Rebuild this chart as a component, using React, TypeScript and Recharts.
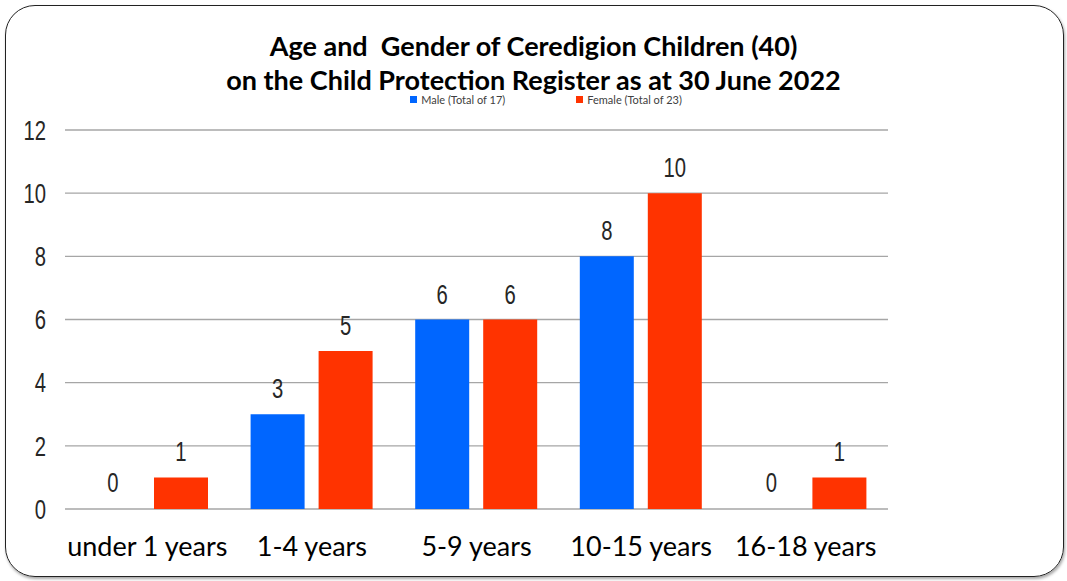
import React from 'react';
import { BarChart, Bar, XAxis, YAxis, CartesianGrid, LabelList, Legend, Cell } from 'recharts';

const ageGroups = ['under 1 years', '1-4 years', '5-9 years', '10-15 years', '16-18 years'];
const maleCounts = [0, 3, 6, 8, 0];
const femaleCounts = [1, 5, 6, 10, 1];
const yTicks = [0, 2, 4, 6, 8, 10, 12];
const seriesOrder = ['male', 'female'];

const MALE_COLOR = '#0066FF';
const FEMALE_COLOR = '#FF3300';

const data = ageGroups.map((age, i) => ({ age, male: maleCounts[i], female: femaleCounts[i] }));

const numFont = '"Liberation Sans", Arial, sans-serif';
const textFont = 'Lato, "Open Sans", sans-serif';
const NUM_SIZE = 27;
const NUM_SQUEEZE = 0.75; // the original numbers are a narrow face

// y axis numbers, squeezed horizontally
const YTick = (props: any) => {
    const { x, y, payload } = props;
    return (
        <text
            transform={`translate(${x},${y}) scale(${NUM_SQUEEZE},1)`}
            textAnchor="end"
            dy="0.36em"
            fontFamily={numFont}
            fontSize={NUM_SIZE}
            fill="#262626"
        >
            {payload.value}
        </text>
    );
};

// value labels sitting above each bar
const ValueLabel = (props: any) => {
    const { x, y, width, height, value } = props;
    const top = Math.min(y, y + height);
    return (
        <text
            transform={`translate(${x + width / 2},${top - 16}) scale(${NUM_SQUEEZE},1)`}
            textAnchor="middle"
            fontFamily={numFont}
            fontSize={NUM_SIZE}
            fill="#262626"
        >
            {value}
        </text>
    );
};

// small legend like the original, two items spaced apart
const renderLegend = (props: any) => {
    const items = [...props.payload].sort(
        (a: any, b: any) => seriesOrder.indexOf(a.dataKey) - seriesOrder.indexOf(b.dataKey)
    );
    return (
        <div style={{ display: 'flex', justifyContent: 'center', paddingLeft: 25, fontFamily: textFont, fontSize: 11, color: '#404040', lineHeight: '13px' }}>
            {items.map((entry: any, index: number) => (
                <span key={`item-${index}`} style={{ display: 'inline-flex', alignItems: 'center', marginRight: index === 0 ? 71 : 0 }}>
                    <span style={{ width: 7, height: 7, background: entry.color, display: 'inline-block', marginRight: 4 }} />
                    {entry.value}
                </span>
            ))}
        </div>
    );
};

const App: React.FC = () => {
    return (
        <div style={{ position: 'absolute', top: 0, left: 0, width: 1067, height: 581, background: '#fff' }}>
            <div
                style={{
                    position: 'absolute',
                    left: 5,
                    top: 5,
                    width: 1057,
                    height: 570,
                    border: '1.5px solid #222',
                    borderRadius: 30,
                    boxShadow: '1px 2px 3px rgba(0,0,0,0.35)',
                }}
            />
            <div
                style={{
                    position: 'absolute',
                    top: 29,
                    left: 0,
                    width: 1067,
                    textAlign: 'center',
                    fontFamily: textFont,
                    fontWeight: 700,
                    fontSize: 27,
                    lineHeight: '34px',
                    color: '#000',
                }}
            >
                Age and&nbsp; Gender of Ceredigion Children (40)
                <br />
                on the Child Protection Register as at 30 June 2022
            </div>
            <div style={{ position: 'absolute', top: 0, left: 0 }}>
                <BarChart
                    width={1067}
                    height={581}
                    data={data}
                    margin={{ top: 117, right: 179, bottom: 0, left: 0 }}
                    barCategoryGap={21}
                    barGap={14}
                >
                    <CartesianGrid vertical={false} stroke="#a6a6a6" strokeWidth={1.3} />
                    <XAxis
                        dataKey="age"
                        axisLine={false}
                        tickLine={false}
                        tickSize={0}
                        tickMargin={28}
                        height={72}
                        interval={0}
                        tick={{ fontFamily: textFont, fontSize: 27, fill: '#000' }}
                    />
                    <YAxis
                        domain={[0, 12]}
                        ticks={yTicks}
                        width={65}
                        axisLine={false}
                        tickLine={false}
                        tickSize={0}
                        tickMargin={19}
                        tick={<YTick />}
                    />
                    <Legend
                        verticalAlign="top"
                        align="center"
                        content={renderLegend}
                        wrapperStyle={{ top: 93, left: 0, width: 1067 }}
                    />
                    <Bar dataKey="male" name="Male (Total of 17)" fill={MALE_COLOR} minPointSize={1} isAnimationActive={false}>
                        {maleCounts.map((v, i) => (
                            <Cell key={`m-${i}`} fill={v === 0 ? 'transparent' : MALE_COLOR} />
                        ))}
                        <LabelList dataKey="male" content={<ValueLabel />} />
                    </Bar>
                    <Bar dataKey="female" name="Female (Total of 23)" fill={FEMALE_COLOR} minPointSize={1} isAnimationActive={false}>
                        {femaleCounts.map((v, i) => (
                            <Cell key={`f-${i}`} fill={v === 0 ? 'transparent' : FEMALE_COLOR} />
                        ))}
                        <LabelList dataKey="female" content={<ValueLabel />} />
                    </Bar>
                </BarChart>
            </div>
        </div>
    );
};

export default App;
